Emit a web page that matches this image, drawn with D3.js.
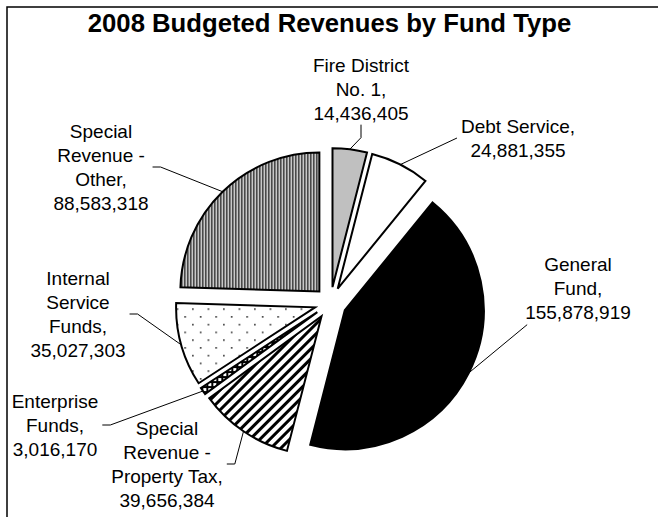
<!DOCTYPE html>
<html>
<head>
<meta charset="utf-8">
<script src="https://cdn.jsdelivr.net/npm/d3@7"></script>
<style>
  body { margin: 0; background: #fff; }
  svg { display: block; font-family: "Liberation Sans", Arial, sans-serif; }
</style>
</head>
<body>
<svg id="chart"></svg>
<script>
// data
const funds = ["Fire District\nNo. 1", "Debt Service", "General\nFund", "Special\nRevenue -\nProperty Tax", "Enterprise\nFunds", "Internal\nService\nFunds", "Special\nRevenue -\nOther"]
const revenues = [14436405, 24881355, 155878919, 39656384, 3016170, 35027303, 88583318]
const title = "2008 Budgeted Revenues by Fund Type"

// styling per slice
const fills = ["#c0c0c0", "#ffffff", "#000000", "url(#diag)", "url(#ladder)", "url(#dots)", "url(#vlines)"]
// label placement: centre x, centre y of the text block, where the leader leaves it
const labelPos = [
  { x: 361, y: 89, side: "bottom" },
  { x: 518, y: 138, side: "left" },
  { x: 578, y: 288, side: "corner" },
  { x: 167, y: 464, side: "right" },
  { x: 55, y: 425, side: "right" },
  { x: 78, y: 314, side: "right" },
  { x: 101, y: 167, side: "right" }
]

const width = 658
const height = 517
const cx = 330.5
const cy = 303
const r = 139
const explode = 16
const fs = 19
const lh = 24

const svg = d3.select("#chart").attr("width", width).attr("height", height)

// patterns
const defs = svg.append("defs")
const vl = defs.append("pattern").attr("id", "vlines").attr("patternUnits", "userSpaceOnUse").attr("width", 3).attr("height", 3)
vl.append("rect").attr("width", 3).attr("height", 3).attr("fill", "#c8c8c8")
vl.append("rect").attr("width", 1).attr("height", 3).attr("fill", "#000")

const dg = defs.append("pattern").attr("id", "diag").attr("patternUnits", "userSpaceOnUse").attr("width", 7).attr("height", 7).attr("patternTransform", "rotate(45)")
dg.append("rect").attr("width", 7).attr("height", 7).attr("fill", "#fff")
dg.append("rect").attr("width", 3).attr("height", 7).attr("fill", "#000")

const dt = defs.append("pattern").attr("id", "dots").attr("patternUnits", "userSpaceOnUse").attr("width", 15.5).attr("height", 15.5)
dt.append("rect").attr("width", 15.5).attr("height", 15.5).attr("fill", "#fff")
dt.append("rect").attr("x", 1).attr("y", 1).attr("width", 1.6).attr("height", 1.6).attr("fill", "#333")
dt.append("rect").attr("x", 8.75).attr("y", 8.75).attr("width", 1.6).attr("height", 1.6).attr("fill", "#333")

const ld = defs.append("pattern").attr("id", "ladder").attr("patternUnits", "userSpaceOnUse").attr("width", 5).attr("height", 5)
ld.append("rect").attr("width", 5).attr("height", 5).attr("fill", "#000")
ld.append("rect").attr("x", 1).attr("y", 1).attr("width", 3).attr("height", 3).attr("fill", "#fff")

// frame
svg.append("rect").attr("x", 7).attr("y", 7).attr("width", 700).attr("height", 600).attr("fill", "#fff").attr("stroke", "#000").attr("stroke-width", 1.5)

svg.append("text")
  .attr("x", 329.5).attr("y", 32)
  .attr("text-anchor", "middle")
  .attr("font-size", 25.7).attr("font-weight", "bold")
  .text(title)

// pie
const pie = d3.pie().sort(null).value((d) => d).startAngle(0).endAngle(2 * Math.PI)
const arcs = pie(revenues)
const arc = d3.arc().innerRadius(0).outerRadius(r)
const mid = (a) => (a.startAngle + a.endAngle) / 2

const g = svg.append("g").attr("transform", `translate(${cx},${cy})`)
g.selectAll("path")
  .data(arcs)
  .enter()
  .append("path")
  .attr("d", arc)
  .attr("transform", (d) => `translate(${Math.sin(mid(d)) * explode},${-Math.cos(mid(d)) * explode})`)
  .attr("fill", (d, i) => fills[i])
  .attr("stroke", "#000")
  .attr("stroke-width", 2)
  .attr("stroke-linejoin", "miter")

// labels
const fmt = d3.format(",")
arcs.forEach((a, i) => {
  const p = labelPos[i]
  const lines = funds[i].split("\n")
  lines[lines.length - 1] += ","
  lines.push(fmt(revenues[i]))
  const y0 = p.y - ((lines.length - 1) * lh) / 2
  const t = svg.append("text").attr("text-anchor", "middle").attr("font-size", fs)
  lines.forEach((s, j) => {
    t.append("tspan").attr("x", p.x).attr("y", y0 + j * lh + 0.35 * fs).text(s)
  })
  const bb = t.node().getBBox()
  // arc midpoint of the exploded slice
  const ex = cx + Math.sin(mid(a)) * (r + explode)
  const ey = cy - Math.cos(mid(a)) * (r + explode)
  let pts
  if (p.side === "right") {
    const sx = bb.x + bb.width + 4
    pts = [[sx, p.y], [sx + 8, p.y], [ex, ey]]
  } else if (p.side === "left") {
    pts = [[bb.x - 4, p.y], [ex, ey]]
  } else if (p.side === "bottom") {
    const sy = bb.y + bb.height + 1
    pts = [[p.x, sy], [p.x, sy + 13], [ex, ey]]
  } else {
    pts = [[bb.x + 2, bb.y + bb.height + 2], [ex, ey]]
  }
  svg.append("path")
    .attr("d", d3.line()(pts))
    .attr("fill", "none")
    .attr("stroke", "#000")
    .attr("stroke-width", 1)
})
</script>
</body>
</html>
